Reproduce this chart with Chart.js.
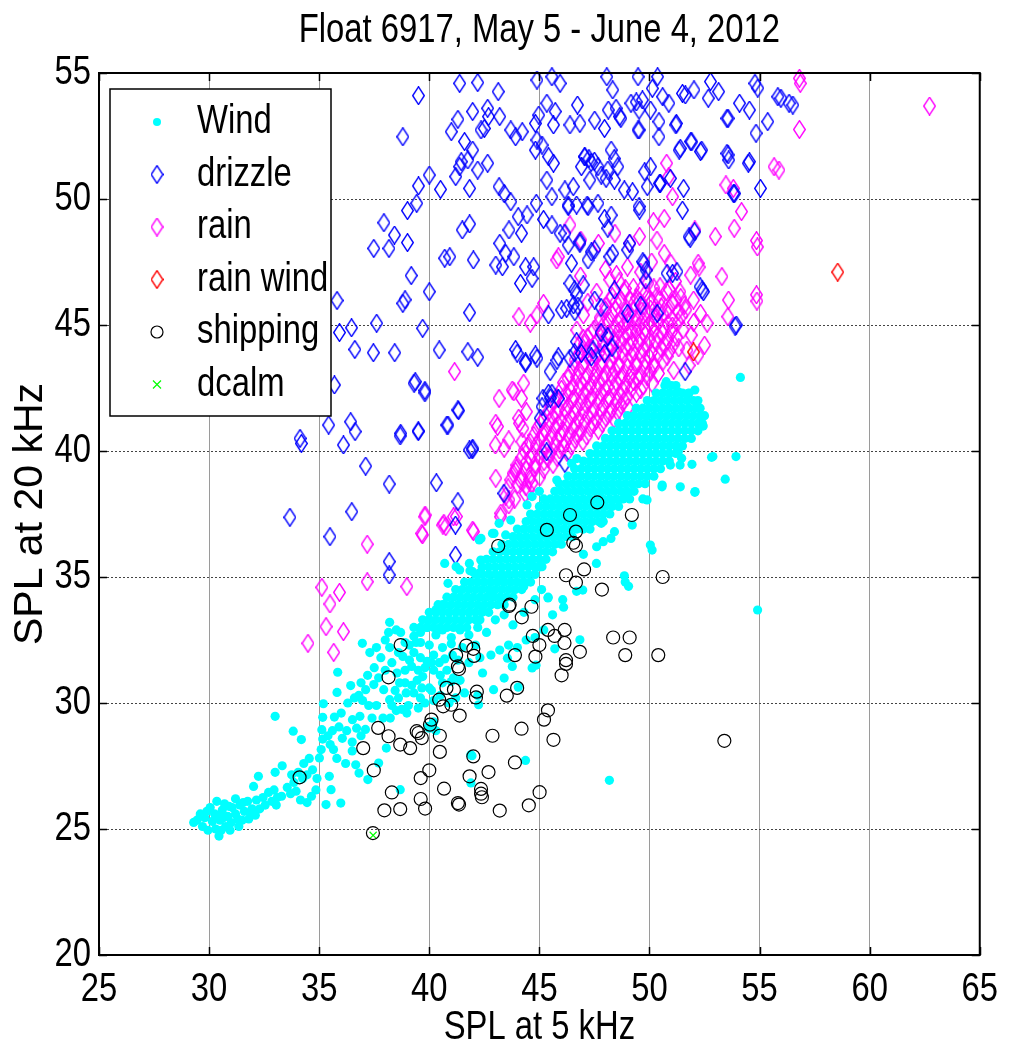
<!DOCTYPE html>
<html>
<head>
<meta charset="utf-8">
<title>Float 6917</title>
<script src="https://cdn.jsdelivr.net/npm/chart.js@4.4.0/dist/chart.umd.min.js"></script>
<style>
  html, body { margin:0; padding:0; background:#fff; }
  #wrap { width:1013px; height:1054px; }
</style>
</head>
<body>
<div id="wrap"><canvas id="myChart" width="1013" height="1054"></canvas></div>
<script>
// axes
var xTicks = [25,30,35,40,45,50,55,60,65];
var yTicks = [20,25,30,35,40,45,50,55];
var seriesNames = ['Wind','drizzle','rain','rain wind','shipping','dcalm'];

// Wind: lower-left tail
var windTail = [
  [29.3,25.26],[29.45,25.35],[29.7,25.1],[29.8,25.45],[29.95,24.95],[29.9,25.7],[30.15,25.3],[30.3,25.0],[30.25,25.6],[30.45,24.72],
  [30.55,24.95],[30.5,25.35],[30.6,25.75],[30.75,25.1],[30.85,25.5],[30.7,26.0],[31.0,25.25],[31.05,25.85],[31.2,25.6],[31.35,25.1],
  [31.4,25.95],[31.5,25.35],[31.6,25.7],[31.75,26.1],[31.8,25.4],[31.95,25.8],[32.1,25.55],[32.15,26.15],[32.3,25.8],[31.2,26.2],
  [30.35,26.1],[30.9,25.9],[32.02,26.69],[32.24,27.09],[32.45,26.25],[32.55,25.95],[32.7,26.45],[32.85,26.1],[32.95,26.55],[33.1,26.25],
  [33.05,25.95],[33.29,26.3],[33.0,27.25],[33.32,27.51],[33.55,26.65],[33.7,26.4],[33.75,27.15],[33.85,26.85],[33.95,26.5],[34.05,27.25],
  [34.15,26.15],[34.25,27.0],[34.3,27.6],[34.45,27.15],[34.45,26.05],[34.65,26.3],[34.7,27.35],[34.55,27.8],[34.85,26.55],[34.9,27.0],
  [35.01,27.82],[35.09,28.15],[35.16,28.57],[35.12,28.94],[35.16,29.43],[35.19,29.97],[35.46,27.09],[35.54,26.56],[35.31,25.97],[35.98,26.03],
  [33.0,29.47],[33.82,28.88],[34.19,28.55],[35.5,28.35],[35.65,28.15],[35.4,28.7],[35.69,29.44],[35.9,29.05],[35.8,27.8],[36.2,27.6],
  [30.05,25.85],[30.65,25.45],[31.3,25.4],[31.55,26.05],[31.9,25.6],[30.4,25.55],[29.6,25.6],[30.95,24.95]
];

// Wind: rising band between the tail and the core
var windBand = [
  [35.81,30.42],[35.84,31.22],[36.43,30.69],[36.51,29.34],[36.85,29.47],[36.97,30.1],[37.11,30.53],[37.48,30.73],[36.05,28.6],[36.25,28.9],
  [36.5,28.45],[36.7,29.0],[36.9,28.7],[37.1,28.95],[36.5,28.1],[36.66,27.55],[36.81,27.22],[37.21,26.96],[37.7,27.62],[38.05,28.21],
  [38.2,30.13],[37.93,30.53],[38.45,30.5],[38.65,30.8],[38.5,29.7],[38.75,29.75],[38.98,29.6],[38.23,29.4],[38.53,31.19],[38.8,31.85],
  [39.1,31.7],[39.3,32.0],[39.6,31.8],[39.9,31.65],[40.2,31.9],[38.9,30.8],[39.2,30.7],[39.45,30.9],[39.7,31.05],[40.0,30.6],
  [39.3,30.4],[39.6,30.2],[39.1,32.3],[39.6,32.4],[40.0,32.3],[40.6,32.2],[41.0,32.35],[41.5,32.2],[42.1,32.3],[40.0,29.0],
  [40.2,29.25],[40.3,28.9],[38.68,26.56],[41.89,26.83],[41.89,27.95],[38.9,31.3],[39.2,31.45],[39.5,31.3],[39.8,31.4],[40.1,31.6],
  [40.45,31.6],[40.7,31.75],[41.05,31.9],[38.6,30.2],[38.95,30.4],[39.05,29.9],[39.5,29.8],[39.8,30.0],[40.2,30.1],[40.6,30.8],
  [41.0,30.85],[41.4,30.9],[38.3,29.9],[37.6,29.9],[37.9,29.4],[37.25,29.9],[37.4,29.4],[36.8,30.3],[37.7,31.0],[38.0,31.3],
  [38.3,31.6],[38.6,32.0],[38.9,32.4],[39.3,32.65],[38.7,32.8],[38.2,32.2],[37.8,31.8],[37.5,31.4],[37.2,31.1],[36.9,30.8],
  [36.6,30.2],[36.3,30.0],[36.0,29.6],[35.6,28.9],[38.2,33.2],[38.15,32.8],[38.5,32.9],[39.4,32.4],[36.96,32.37],[37.3,32.0],
  [37.6,32.2],[38.0,32.5],[40.2,31.3],[40.5,31.1],[40.8,31.3],[41.1,31.0],[40.1,30.5],[40.5,30.3],[40.9,30.0],[41.2,30.2],
  [41.6,30.4],[42.2,30.3],[42.42,31.19],[42.92,30.53],[43.4,30.99],[43.55,31.78],[43.77,31.45],[44.04,30.63],[44.67,31.39],[44.85,31.5],
  [42.24,29.93],[39.66,30.6],[39.96,29.07],[41.3,31.7],[41.8,31.6],[42.3,31.8],[42.8,31.9],[43.2,32.1],[43.6,32.3],[44.0,32.2],
  [44.4,32.5],[44.8,32.6],[45.2,32.9],[46.84,32.51],[45.7,32.15],[46.1,33.8],[45.6,33.5],[39.6,32.8],[39.9,33.0],[40.3,32.7],
  [40.6,32.9],[41.0,32.6],[41.4,32.9],[41.8,32.7],[42.2,33.0],[42.6,32.8],[43.0,33.3],[43.4,33.5],[43.8,33.1],[44.3,33.6],
  [44.8,34.1],[45.1,34.5],[45.4,34.2],[46.06,34.1],[46.69,34.43],[45.39,34.17],[40.0,33.3],[40.3,33.7],[40.6,33.9],[40.85,34.75],
  [40.7,35.54],[41.22,35.41],[41.85,35.25],[41.38,35.28],[42.35,36.53],[42.87,36.73],[43.47,36.67],[43.17,37.13],[43.7,37.26],[44.44,37.86],
  [44.67,38.19],[45.0,38.4],[45.79,38.85],[46.46,39.51],[46.7,39.7],[43.32,34.95],[42.94,36.73],[42.27,36.47],[42.34,35.67],[41.97,35.21]
];

// Wind: solid core, one row per level [y, [x...]]
var windCoreRows = [
  [33.0,[39.3,39.6,39.9,40.2,40.5,40.8,41.1,41.4,41.7]],
  [33.3,[39.7,40.0,40.3,40.6,40.9,41.2,41.5,41.8,42.1,42.3]],
  [33.6,[40.0,40.3,40.6,40.9,41.2,41.5,41.8,42.1,42.4,42.7]],
  [33.9,[40.4,40.7,41.0,41.3,41.6,41.9,42.2,42.5,42.8,43.1,43.4]],
  [34.2,[40.8,41.1,41.4,41.7,42.0,42.3,42.6,42.9,43.2,43.5,43.8]],
  [34.5,[41.2,41.5,41.8,42.1,42.4,42.7,43.0,43.3,43.6,43.9,44.2]],
  [34.8,[41.6,41.9,42.2,42.5,42.8,43.1,43.4,43.7,44.0,44.3,44.6]],
  [35.1,[42.1,42.4,42.7,43.0,43.3,43.6,43.9,44.2,44.5,44.8]],
  [35.4,[42.4,42.7,43.0,43.3,43.6,43.9,44.2,44.5,44.8,45.0]],
  [35.7,[42.6,42.9,43.2,43.5,43.8,44.1,44.4,44.7,45.0,45.3]],
  [36.0,[42.9,43.2,43.5,43.8,44.1,44.4,44.7,45.0,45.3,45.6]],
  [36.3,[43.3,43.6,43.9,44.2,44.5,44.8,45.1,45.4,45.7,46.0]],
  [36.6,[43.8,44.1,44.4,44.7,45.0,45.3,45.6,45.9,46.2,46.5]],
  [36.9,[44.0,44.3,44.6,44.9,45.2,45.5,45.8,46.1,46.4,46.7,47.0,47.3]],
  [37.2,[44.4,44.7,45.0,45.3,45.6,45.9,46.2,46.5,46.8,47.1,47.4,47.7,47.9]],
  [37.5,[44.6,44.9,45.2,45.5,45.8,46.1,46.4,46.7,47.0,47.3,47.6,47.9,48.2]],
  [37.8,[45.0,45.3,45.6,45.9,46.2,46.5,46.8,47.1,47.4,47.7,48.0,48.3,48.6]],
  [38.1,[45.2,45.5,45.8,46.1,46.4,46.7,47.0,47.3,47.6,47.9,48.2,48.5,48.8,49.1]],
  [38.4,[45.7,46.0,46.3,46.6,46.9,47.2,47.5,47.8,48.1,48.4,48.7,49.0,49.3]],
  [38.7,[45.9,46.2,46.5,46.8,47.1,47.4,47.7,48.0,48.3,48.6,48.9,49.2,49.5,49.8]],
  [39.0,[46.3,46.6,46.9,47.2,47.5,47.8,48.1,48.4,48.7,49.0,49.3,49.6,49.9,50.2]],
  [39.3,[46.6,46.9,47.2,47.5,47.8,48.1,48.4,48.7,49.0,49.3,49.6,49.9,50.2,50.5]],
  [39.6,[47.0,47.3,47.6,47.9,48.2,48.5,48.8,49.1,49.4,49.7,50.0,50.3,50.6,50.9]],
  [39.9,[47.3,47.6,47.9,48.2,48.5,48.8,49.1,49.4,49.7,50.0,50.3,50.6,50.9,51.2]],
  [40.2,[47.6,47.9,48.2,48.5,48.8,49.1,49.4,49.7,50.0,50.3,50.6,50.9,51.2,51.5]],
  [40.5,[48.0,48.3,48.6,48.9,49.2,49.5,49.8,50.1,50.4,50.7,51.0,51.3,51.6,51.9]],
  [40.8,[48.3,48.6,48.9,49.2,49.5,49.8,50.1,50.4,50.7,51.0,51.3,51.6,51.9,52.2]],
  [41.1,[48.6,48.9,49.2,49.5,49.8,50.1,50.4,50.7,51.0,51.3,51.6,51.9,52.2,52.4]],
  [41.4,[49.0,49.3,49.6,49.9,50.2,50.5,50.8,51.1,51.4,51.7,52.0,52.3,52.5]],
  [41.7,[49.4,49.7,50.0,50.3,50.6,50.9,51.2,51.5,51.8,52.1,52.3]],
  [42.0,[49.9,50.2,50.5,50.8,51.1,51.4,51.7,52.0,52.2]],
  [42.3,[50.3,50.6,50.9,51.2,51.5,51.8]],
  [42.6,[50.7,51.0,51.2]]
];

// Wind: isolated points
var windOut = [
  [54.91,33.69],[54.13,42.92],[53.93,39.78],[53.44,38.88],[52.88,39.78],[52.06,38.36],[51.93,39.47],[51.46,39.71],[51.39,39.44],[51.31,39.97],
  [52.36,41.36],[52.44,40.99],[52.06,42.42],[51.76,42.29],[51.31,42.35],[50.04,36.27],[50.12,36.07],[50.57,38.58],[49.89,38.06],[49.7,38.1],
  [48.9,34.8],[49.05,34.63],[48.86,35.05],[49.22,37.06],[48.25,36.53],[47.6,36.2],[47.9,36.4],[47.0,35.9],[46.97,34.48],[50.58,38.65],
  [51.4,38.58],[52.07,38.39],[52.82,39.75],[50.95,39.44],[48.41,36.8],[47.81,37.13],[49.0,38.32],[45.12,35.41],[44.59,35.54],[44.29,34.62],
  [42.87,34.35],[42.42,33.82],[42.27,35.15],[41.82,35.54],[48.18,26.93],[44.37,27.72],[41.94,27.91],[47.59,35.54],[50.76,42.75]
];

var drizzle = [
  [34.13,40.5],[34.19,40.3],[33.67,37.37],[35.49,36.6],[35.69,42.62],[35.43,41.03],[36.43,41.16],[36.63,40.77],[36.1,40.24],[37.11,39.4],
  [38.18,38.69],[38.68,40.6],[39.5,40.77],[40.8,41.03],[41.33,41.6],[41.82,40.04],[41.95,40.04],[40.32,38.74],[41.3,37.99],[43.39,38.32],
  [45.16,42.09],[45.5,42.1],[45.04,41.3],[36.48,37.59],[38.18,35.61],[38.18,35.08],[41.19,37.06],[41.19,35.87],[45.33,39.97],[46.16,39.51],
  [39.31,42.69],[39.8,42.31],[39.36,42.75],[39.8,42.4],[39.5,40.8],[38.7,40.7],[41.3,41.63],[40.85,41.03],[41.97,40.11],[43.99,43.88],
  [44.37,43.48],[44.89,43.68],[45.49,43.15],[45.57,42.29],[45.12,41.76],
  [39.51,54.1],[38.8,52.47],[41.38,54.59],[42.2,54.62],[43.13,54.26],[41.3,53.16],[41.0,52.67],[41.97,53.47],[42.65,53.6],[42.69,53.27],
  [42.35,52.74],[42.5,52.8],[43.2,53.27],[43.7,52.74],[44.22,52.67],[43.92,52.47],[41.6,52.28],[41.97,51.94],[41.45,51.48],[41.75,51.55],
  [42.2,51.15],[42.65,51.42],[41.2,50.89],[41.38,51.28],[41.83,50.42],[40.0,50.95],[39.51,50.52],[40.51,50.38],[39.43,49.83],[39.01,49.54],
  [37.94,49.06],[38.42,48.57],[38.17,48.04],[37.48,48.04],[39.01,48.27],[39.18,46.96],[38.8,45.86],[38.9,46.0],[35.81,45.97],[35.92,44.7],
  [36.47,44.89],[37.61,45.07],[36.62,44.03],[37.46,43.9],[38.43,43.9],[39.7,44.87],[40.45,44.01],[42.2,43.72],[40.0,46.32],[40.93,47.71],
  [40.7,47.65],[41.5,48.77],[41.83,49.01],[42.0,47.58],[41.83,45.49],[43.17,50.49],[43.4,50.22],[43.7,49.89],[44.04,49.3],[44.44,49.37],
  [44.86,49.83],[43.2,48.24],[43.62,48.77],[44.19,48.64],[43.47,47.84],[43.02,47.38],[43.32,47.31],[43.84,47.71],[44.37,47.31],[44.74,47.31],
  [44.14,46.65],[44.67,46.85],[45.42,45.4],[45.57,48.97],[45.19,49.19],[45.34,50.75],[45.57,50.09],[46.16,50.36],[46.31,49.7],[46.54,50.49],
  [45.94,48.64],[46.46,47.45],[46.39,46.65],[46.01,45.6],[46.61,45.53],[44.82,51.94],[45.12,52.14],[45.42,51.68],[45.64,51.42],[44.97,53.33],
  [45.34,53.8],[45.72,53.47],[44.82,53.0],[45.64,52.94],[44.89,54.72],[45.57,54.85],[45.94,54.59],[44.89,52.34],[46.39,52.94],[46.84,53.0],
  [46.73,53.73],[47.06,51.68],[46.91,51.28],[47.29,50.75],[47.17,49.76],[46.84,48.31],[41.75,43.94],[43.92,44.03],[44.37,43.54],[44.82,43.81],
  [48.06,54.85],[48.33,54.33],[49.48,54.85],[50.37,54.85],[50.13,54.39],[49.16,53.8],[49.4,53.85],[48.48,53.6],[48.7,53.2],[49.68,53.93],
  [49.53,53.53],[49.53,52.74],[50.05,53.53],[50.6,54.06],[50.88,53.8],[51.5,54.19],[51.63,54.13],[52.02,54.33],[52.77,54.66],[53.14,54.26],
  [52.67,54.0],[50.43,53.07],[51.22,53.0],[50.43,52.47],[51.4,52.01],[51.92,52.27],[52.37,51.94],[53.57,53.2],[54.09,53.8],[54.54,53.53],
  [54.79,54.59],[54.92,54.4],[55.37,53.07],[54.84,52.61],[53.57,51.75],[53.6,51.55],[54.54,51.48],[55.04,50.42],[55.83,54.06],[55.97,54.0],
  [56.51,53.73],[56.34,53.8],[53.87,50.22],[47.51,53.13],[47.96,52.8],[48.13,53.53],[48.65,53.27],[49.48,52.74],[51.2,52.94],[53.52,53.2],
  [47.06,51.68],[47.25,51.6],[47.35,51.45],[47.5,51.5],[47.66,51.28],[48.11,51.15],[48.26,51.94],[48.4,51.6],[48.56,51.28],[47.81,50.95],
  [48.03,50.82],[48.41,50.75],[48.86,50.36],[49.23,50.29],[49.9,50.49],[49.53,49.7],[50.05,51.28],[49.78,51.08],[50.5,50.62],[50.95,50.82],
  [51.55,50.42],[51.5,49.56],[49.55,49.56],[51.85,48.44],[52.05,48.7],[52.45,46.32],[52.39,46.39],[53.94,45.0],[51.62,43.15],[49.75,47.45],
  [49.85,47.18],[49.01,47.98],[48.33,47.84],[49.1,48.24],[47.51,47.98],[47.36,47.9],[47.21,47.58],[46.84,48.24],[48.11,48.84],[47.96,49.23],
  [48.26,49.36],[47.66,49.83],[47.21,49.7],[46.69,49.76],[46.31,49.76],[46.31,48.17],[46.16,48.64],[46.99,46.59],[46.6,46.4],[46.7,46.2],
  [46.55,45.8],[46.75,45.75],[47.51,45.99],[47.8,45.7],[48.41,46.39],[49.01,45.46],[49.6,45.79],[49.83,46.79],[50.35,45.46],[50.8,47.05],
  [51.05,47.05],[51.25,47.12],[52.3,46.52],[47.44,44.01],[47.36,43.74],[46.69,44.34],[46.91,43.87],[46.6,43.9],[45.86,43.74],[45.8,43.6],
  [45.42,42.29],[45.86,42.09],[46.39,43.68],[47.96,43.88],[48.3,44.1],[46.24,45.66],[48.11,44.54],[47.8,44.7],[53.81,50.22],[53.52,51.81],
  [54.49,51.42],[51.35,51.94],[51.87,52.28],[52.32,51.88],[50.45,50.62],[51.8,48.5],[53.89,44.96],[48.2,47.71],[49.7,47.51]
];

// rain: dense cluster above the wind band
var rainCore = [
  [48.62,46.71],[49.27,46.48],[49.93,46.66],[50.48,46.52],[51.18,46.73],
  [48.31,46.12],[48.86,46.31],[49.42,46.08],[49.83,46.27],[50.34,46.15],[50.77,46.34],[51.42,46.09],
  [48.02,45.74],[48.47,45.91],[48.93,45.69],[49.31,45.88],[49.72,45.76],[50.11,45.93],[50.54,45.71],[51.03,45.86],[51.58,45.79],
  [47.76,45.29],[48.27,45.46],[48.71,45.24],[49.08,45.41],[49.47,45.28],[49.84,45.47],[50.23,45.31],[50.61,45.44],[51.02,45.22],[51.47,45.38],
  [47.48,44.83],[47.93,45.02],[48.38,44.86],[48.81,44.97],[49.19,44.79],[49.52,44.95],[49.81,44.84],[50.18,45.03],[50.63,44.88],[51.04,44.96],[51.52,44.81],
  [47.18,44.52],[47.62,44.38],[48.03,44.57],[48.42,44.41],[48.79,44.53],[49.21,44.36],[49.58,44.49],[50.02,44.42],[50.39,44.58],[50.83,44.39],[51.24,44.51],
  [46.88,43.95],[47.31,44.08],[47.72,43.92],[48.12,44.06],[48.49,43.97],[48.92,44.11],[49.28,43.93],[49.71,44.04],[50.09,43.91],[50.53,44.07],[50.91,43.98],[51.33,44.09],
  [46.62,43.61],[47.03,43.47],[47.41,43.63],[47.79,43.49],[48.22,43.58],[48.58,43.44],[49.02,43.62],[49.38,43.51],[49.81,43.59],[50.19,43.46],[50.62,43.57],
  [46.37,43.05],[46.82,43.18],[47.19,43.02],[47.63,43.16],[48.01,43.07],[48.43,43.19],[48.79,43.04],[49.22,43.14],[49.58,43.01],[50.03,43.17],[50.41,43.08],
  [46.09,42.71],[46.52,42.58],[46.88,42.73],[47.32,42.61],[47.69,42.69],[48.12,42.55],[48.49,42.72],[48.91,42.63],[49.28,42.76],[49.71,42.59],[50.12,42.68],
  [45.78,42.14],[46.21,42.27],[46.58,42.12],[47.02,42.25],[47.38,42.16],[47.81,42.28],[48.19,42.11],[48.62,42.24],[48.98,42.15],[49.41,42.29],
  [45.51,41.81],[45.88,41.68],[46.32,41.79],[46.69,41.71],[47.12,41.84],[47.48,41.69],[47.91,41.78],[48.28,41.66],[48.71,41.82],[49.02,41.73],
  [45.18,41.24],[45.61,41.37],[45.98,41.22],[46.42,41.35],[46.79,41.26],[47.21,41.38],[47.58,41.23],[48.02,41.34],[48.39,41.27],
  [44.91,40.91],[45.28,40.79],[45.72,40.93],[46.09,40.81],[46.52,40.88],[46.88,40.77],[47.31,40.92],[47.68,40.83],
  [44.58,40.34],[45.02,40.47],[45.39,40.36],[45.81,40.45],[46.18,40.33],[46.62,40.46],[46.98,40.38],
  [44.31,40.02],[44.68,39.88],[45.12,39.99],[45.49,39.91],[45.92,40.04],[46.27,39.93],
  [43.98,39.44],[44.42,39.57],[44.79,39.46],[45.21,39.58],[45.62,39.47],
  [43.81,39.11],[44.18,38.98],[44.61,39.08],[45.02,38.97],
  [43.58,38.54],[44.02,38.67],[44.39,38.58],
  [43.47,38.21],[43.88,38.09]
];

// rain: second layer of the dense cluster, between the rows above
var rainCore2 = [
  [48.9,46.45],[49.6,46.38],[50.2,46.47],[50.9,46.41],
  [48.2,46.0],[48.7,45.97],[49.1,46.03],[49.55,45.95],[50.0,46.02],[50.45,45.98],[51.2,46.0],
  [48.0,45.58],[48.45,45.62],[48.9,45.52],[49.25,45.6],[49.65,45.55],[50.05,45.63],[50.45,45.52],[50.85,45.6],[51.3,45.55],
  [47.7,45.08],[48.15,45.15],[48.6,45.05],[49.0,45.12],[49.35,45.07],[49.7,45.16],[50.0,45.06],[50.4,45.13],[50.85,45.04],[51.3,45.12],
  [47.35,44.68],[47.8,44.72],[48.2,44.63],[48.6,44.74],[49.0,44.66],[49.4,44.71],[49.8,44.62],[50.2,44.75],[50.6,44.66],[51.0,44.71],
  [47.05,44.25],[47.5,44.2],[47.9,44.28],[48.3,44.19],[48.7,44.26],[49.1,44.18],[49.5,44.27],[49.9,44.21],[50.3,44.29],[50.7,44.2],[51.1,44.24],
  [46.8,43.78],[47.2,43.82],[47.6,43.74],[48.0,43.83],[48.4,43.76],[48.8,43.85],[49.2,43.77],[49.6,43.81],[50.0,43.73],[50.4,43.82],[50.8,43.76],
  [46.55,43.32],[46.95,43.38],[47.4,43.3],[47.8,43.37],[48.2,43.29],[48.6,43.36],[49.0,43.31],[49.4,43.39],[49.8,43.3],[50.2,43.35],
  [46.3,42.88],[46.7,42.93],[47.1,42.85],[47.5,42.92],[47.9,42.86],[48.3,42.95],[48.7,42.87],[49.1,42.92],[49.5,42.86],[49.9,42.94],
  [46.0,42.45],[46.4,42.41],[46.8,42.48],[47.2,42.39],[47.6,42.46],[48.0,42.42],[48.4,42.49],[48.8,42.4],[49.2,42.47],[49.6,42.43],
  [45.7,42.0],[46.1,41.96],[46.5,42.03],[46.9,41.95],[47.3,42.02],[47.7,41.97],[48.1,42.04],[48.5,41.96],[48.85,42.0],
  [45.4,41.55],[45.8,41.5],[46.2,41.58],[46.6,41.49],[47.0,41.56],[47.4,41.51],[47.8,41.57],[48.2,41.5],[48.55,41.55],
  [45.05,41.08],[45.45,41.12],[45.85,41.05],[46.25,41.1],[46.65,41.04],[47.05,41.11],[47.45,41.06],[47.85,41.1],
  [44.75,40.62],[45.15,40.66],[45.55,40.6],[45.95,40.65],[46.35,40.61],[46.75,40.67],[47.15,40.6],
  [44.45,40.18],[44.85,40.22],[45.3,40.16],[45.7,40.21],[46.1,40.17],[46.45,40.2],
  [44.2,39.74],[44.6,39.7],[45.0,39.77],[45.4,39.72],[45.8,39.75],
  [43.95,39.3],[44.4,39.26],[44.8,39.32],[45.2,39.27],
  [43.7,38.85],[44.15,38.82],[44.55,38.88]
];

// rain: scattered points
var rainScatter = [
  [43.17,42.09],[43.77,42.42],[44.19,42.09],[44.41,41.56],[44.1,41.1],[44.25,40.9],[43.1,40.97],[43.0,40.24],[43.4,40.11],[43.61,40.44],
  [43.84,42.35],[44.29,42.69],[44.06,41.3],[43.02,41.1],[44.21,40.37],[43.02,38.92],[43.61,37.86],[43.24,37.39],[44.36,38.32],[44.66,38.72],
  [43.92,39.18],[44.52,38.45],[43.62,38.06],[43.25,37.53],[35.12,34.59],[35.92,34.39],[35.49,33.93],[35.31,33.03],[36.1,32.83],[35.66,32.01],
  [34.49,32.37],[37.18,36.3],[37.18,34.81],[38.98,34.62],[39.8,37.39],[39.69,36.67],[40.62,37.06],[40.75,37.0],[41.1,37.39],[42.01,36.8],
  [41.23,37.4],[41.97,36.86],[40.66,37.13],[39.81,37.46],[39.66,36.73],[41.15,43.15],[46.39,48.97],[45.79,47.58],[46.88,48.37],[46.87,46.94],
  [45.19,45.86],[44.89,45.4],[44.07,45.33],[44.59,45.07],[46.7,44.8],[47.0,44.45],[46.8,44.2],[56.81,54.79],[56.85,54.59],[62.72,53.69],
  [56.81,52.76],[55.66,51.28],[55.88,51.15],[50.78,51.42],[50.87,50.89],[51.05,50.09],[53.47,50.56],[53.81,50.42],[54.18,49.5],[53.85,48.84],
  [52.99,48.51],[52.06,48.77],[50.67,49.23],[50.18,49.1],[50.34,48.37],[54.86,48.35],[54.9,48.1],[50.67,47.84],[50.97,47.45],[52.21,47.45],
  [52.25,47.3],[51.87,46.98],[53.29,46.92],[53.59,45.99],[53.56,45.33],[52.62,45.07],[52.0,45.99],[52.32,45.46],[54.86,46.2],[54.88,45.95],
  [51.38,46.32],[51.65,45.6],[51.05,45.86],[49.55,48.51],[49.1,48.24],[48.43,48.64],[47.68,48.24],[45.86,47.71],[48.0,47.2],[48.5,47.0],
  [49.0,47.3],[49.6,47.1],[50.1,47.5],[48.2,46.8],[47.6,46.3],[47.2,45.9],[47.0,45.4],[52.5,44.2],[52.2,43.8],[51.9,44.6],
  [51.8,43.4],[51.1,43.2],[52.0,45.1],[51.7,44.0]
];

var rainWind = [[58.55,47.1],[52.0,43.93]];

var shipping = [
  [53.4,28.5],[50.6,35.0],[50.4,31.9],[49.1,32.6],[48.9,31.9],[48.35,32.6],[47.84,34.5],[47.63,37.96],[49.2,37.46],[47.03,35.3],
  [46.21,35.07],[46.66,34.78],[46.39,37.46],[45.34,36.87],[46.66,36.8],[46.54,36.36],[46.66,36.24],[43.13,36.23],[43.65,33.9],[43.62,33.85],
  [44.64,33.82],[44.2,33.4],[44.7,32.66],[45.39,32.9],[45.69,32.66],[46.15,32.9],[45.0,32.3],[44.82,31.84],[46.14,32.38],[46.84,32.03],
  [46.21,31.7],[46.21,31.55],[46.01,31.1],[43.89,31.9],[41.68,32.28],[41.22,31.9],[42.0,32.15],[42.03,31.87],[41.35,31.35],[41.3,31.45],
  [38.7,32.3],[38.15,31.02],[43.52,30.29],[43.99,30.6],[42.16,30.45],[42.12,30.22],[40.78,30.6],[41.12,30.53],[40.45,30.13],[40.63,29.87],
  [41.0,29.93],[41.38,29.5],[40.1,29.34],[40.03,29.14],[39.51,28.81],[39.66,28.61],[40.48,28.7],[40.48,28.06],[42.87,28.7],[44.19,28.98],
  [45.39,29.71],[45.21,29.34],[45.64,28.54],[42.0,27.88],[43.89,27.64],[40.0,27.33],[39.61,27.02],[41.83,27.09],[42.69,27.26],[40.67,26.6],
  [42.35,26.59],[42.39,26.26],[42.35,26.4],[41.35,25.97],[41.3,26.03],[39.61,26.19],[39.81,25.81],[43.2,25.73],[44.52,25.94],[45.01,26.46],
  [37.0,28.21],[37.48,27.33],[37.68,29.01],[38.15,28.68],[38.68,28.35],[39.13,28.21],[39.43,28.88],[38.3,26.45],[37.96,25.74],[38.68,25.79],
  [37.44,24.84],[34.11,27.05]
];

var dcalm = [[37.45,24.75]];

// build the series
var windCore = [];
windCoreRows.forEach(function(r){
  r[1].forEach(function(x){ windCore.push([x, r[0]]); });
});
var wind = windTail.concat(windBand, windCore, windOut);
var rain = rainCore.concat(rainCore2, rainScatter);

// XNarrow marks text that gets squeezed like the condensed original
var NARROW = "'Liberation Sans', XNarrow, Arial, sans-serif";
var REGULAR = "'Liberation Sans', Arial, sans-serif";

function diamond(color){
  var c = document.createElement('canvas');
  c.width = 13; c.height = 19;
  var g = c.getContext('2d');
  g.strokeStyle = color; g.lineWidth = 1.4;
  g.beginPath();
  g.moveTo(6.5,0.7); g.lineTo(12.3,9.5); g.lineTo(6.5,18.3); g.lineTo(0.7,9.5); g.closePath();
  g.stroke();
  return c;
}
var dBlue = diamond('#0000ff'), dMag = diamond('#ff00ff'), dRed = diamond('#ff0000');

function condenseText(c, sx){
  var orig = c.fillText;
  c.fillText = function(t, x, y, w){
    if (this.font.indexOf('XNarrow') < 0) return orig.call(this, t, x, y, w);
    this.save();
    this.translate(x, y);
    this.scale(sx, 1);
    if (w === undefined) orig.call(this, t, 0, 0);
    else orig.call(this, t, 0, 0, w / sx);
    this.restore();
  };
}

// legend + box + inner tick marks
var framePlugin = {
  id: 'framePlugin',
  afterDraw: function(chart){
    var a = chart.chartArea, ctx = chart.ctx;
    var xs = chart.scales.x, ys = chart.scales.y;
    ctx.save();
    ctx.strokeStyle = '#000';
    ctx.lineWidth = 1.5;
    ctx.beginPath();
    xTicks.forEach(function(v){
      var p = Math.round(xs.getPixelForValue(v)) + 0.5;
      ctx.moveTo(p, a.bottom); ctx.lineTo(p, a.bottom - 8);
      ctx.moveTo(p, a.top); ctx.lineTo(p, a.top + 8);
    });
    yTicks.forEach(function(v){
      var p = Math.round(ys.getPixelForValue(v)) + 0.5;
      ctx.moveTo(a.left, p); ctx.lineTo(a.left + 8, p);
      ctx.moveTo(a.right, p); ctx.lineTo(a.right - 8, p);
    });
    ctx.stroke();
    ctx.lineWidth = 2;
    ctx.strokeRect(a.left, a.top, a.right - a.left, a.bottom - a.top);

    // legend box
    ctx.fillStyle = '#fff';
    ctx.fillRect(110, 89, 221, 327);
    ctx.lineWidth = 1.5;
    ctx.strokeRect(110, 89, 221, 327);
    var mx = 157, y0 = 122, step = 52.5;
    chart.data.datasets.forEach(function(ds, i){
      var y = y0 + i * step;
      var m = ds.legendMark;
      if (m === 'dot') {
        ctx.fillStyle = '#00ffff';
        ctx.beginPath(); ctx.arc(mx, y, 4, 0, Math.PI * 2); ctx.fill();
      } else if (m === 'circle') {
        ctx.strokeStyle = '#000'; ctx.lineWidth = 1.2;
        ctx.beginPath(); ctx.arc(mx, y, 6, 0, Math.PI * 2); ctx.stroke();
      } else if (m === 'x') {
        ctx.strokeStyle = '#00ff00'; ctx.lineWidth = 1.2;
        ctx.beginPath();
        ctx.moveTo(mx - 4, y - 4); ctx.lineTo(mx + 4, y + 4);
        ctx.moveTo(mx + 4, y - 4); ctx.lineTo(mx - 4, y + 4);
        ctx.stroke();
      } else {
        ctx.drawImage(ds.pointStyle, mx - 6.5, y - 9.5);
      }
      ctx.fillStyle = '#000';
      ctx.font = '40px ' + NARROW;
      ctx.textAlign = 'left';
      ctx.textBaseline = 'middle';
      ctx.fillText(ds.label, 197, y);
    });
    ctx.restore();
  }
};

var ctx = document.getElementById('myChart');
condenseText(ctx.getContext('2d'), 0.82);

var myChart = new Chart(ctx, {
  type: 'scatter',
  data: {
    datasets: [
      { label: seriesNames[0], data: wind, legendMark: 'dot', order: 2,
        pointStyle: 'circle', pointRadius: 4.6, pointBorderWidth: 0,
        pointBackgroundColor: '#00ffff', pointBorderColor: '#00ffff' },
      { label: seriesNames[1], data: drizzle, legendMark: 'diamond', order: 3, clip: false,
        pointStyle: dBlue, pointRadius: 6 },
      { label: seriesNames[2], data: rain, legendMark: 'diamond', order: 4, clip: false,
        pointStyle: dMag, pointRadius: 6 },
      { label: seriesNames[3], data: rainWind, legendMark: 'diamond', order: 1, clip: false,
        pointStyle: dRed, pointRadius: 6 },
      { label: seriesNames[4], data: shipping, legendMark: 'circle', order: 0,
        pointStyle: 'circle', pointRadius: 6.5, pointBorderWidth: 1.2,
        pointBackgroundColor: 'rgba(0,0,0,0)', pointBorderColor: '#000' },
      { label: seriesNames[5], data: dcalm, legendMark: 'x', order: 0,
        pointStyle: 'crossRot', pointRadius: 5, pointBorderWidth: 1.2,
        pointBorderColor: '#00ff00' }
    ]
  },
  options: {
    responsive: false,
    animation: false,
    events: [],
    layout: { padding: { left: 0, right: 23, top: 0, bottom: 0 } },
    plugins: {
      legend: { display: false },
      tooltip: { enabled: false },
      title: {
        display: true,
        text: 'Float 6917, May 5 - June 4, 2012',
        fullSize: false,
        color: '#000',
        font: { family: NARROW, size: 40, weight: 'normal', lineHeight: 1.2 },
        padding: { top: 7, bottom: 18 }
      }
    },
    scales: {
      x: {
        type: 'linear', min: 25, max: 65,
        afterBuildTicks: function(s){ s.ticks = xTicks.map(function(v){ return {value: v}; }); },
        afterFit: function(s){ s.height = 99; },
        grid: { color: '#9a9a9a', lineWidth: 1, drawTicks: false },
        border: { display: false },
        ticks: { color: '#000', padding: 11, font: { family: NARROW, size: 40 } },
        title: { display: true, text: 'SPL at 5 kHz', color: '#000',
          font: { family: NARROW, size: 40, lineHeight: 1.2 }, padding: { top: 0, bottom: 2 } }
      },
      y: {
        type: 'linear', min: 20, max: 55,
        afterBuildTicks: function(s){ s.ticks = yTicks.map(function(v){ return {value: v}; }); },
        afterFit: function(s){ s.width = 99; },
        grid: { color: '#444', lineWidth: 1, drawTicks: false },
        border: { display: false, dash: [2, 2] },
        ticks: { color: '#000', padding: 8, font: { family: NARROW, size: 40 } },
        title: { display: true, text: 'SPL at 20 kHz', color: '#000',
          font: { family: REGULAR, size: 41, lineHeight: 1.2 }, padding: { top: 6, bottom: 0 } }
      }
    }
  },
  plugins: [framePlugin]
});
</script>
</body>
</html>
